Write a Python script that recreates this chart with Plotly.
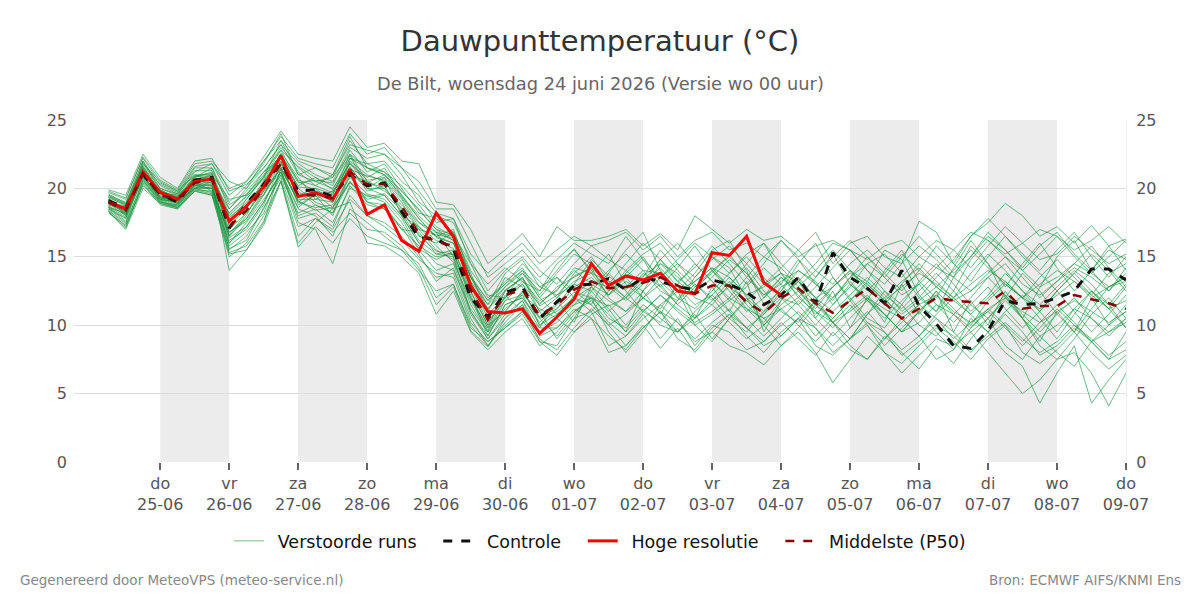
import pandas as pd
import plotly.graph_objects as go

# ---------------- data ----------------
start_time = "2026-06-24 06:00"
n_steps = 60  # 6-hourly steps

hres = [19.0,18.5,21.2,19.7,19.2,20.5,20.7,17.6,18.7,20.1,22.4,19.4,19.7,19.2,21.4,18.1,18.8,16.2,15.4,18.2,
        16.5,12.9,11.0,10.9,11.2,9.4,10.6,11.9,14.5,12.9,13.6,13.3,13.8,12.5,12.3,15.3,15.1,16.5,13.1,12.2]

p50 = [19.0,18.4,21.1,19.5,19.2,20.4,20.7,17.2,18.4,20.0,21.8,19.5,19.5,19.3,21.2,20.3,20.3,18.7,16.7,16.1,
       15.8,12.6,10.4,12.2,12.6,10.7,11.5,12.6,13.2,12.7,12.8,13.1,13.5,12.9,12.3,12.9,12.9,11.7,10.9,12.0,
       12.7,11.6,10.9,11.8,12.7,11.6,10.5,11.2,12.0,11.8,11.7,11.6,12.5,11.2,11.4,11.4,12.2,11.9,11.6,11.2]

control = [19.1,18.6,21.0,19.6,19.0,20.6,20.8,17.1,18.9,20.3,21.9,19.8,19.9,19.4,21.0,20.2,20.4,18.3,16.4,16.3,
           15.6,12.0,10.6,12.4,12.8,10.5,11.7,12.9,13.0,13.4,12.6,13.5,13.2,12.8,12.6,13.3,13.0,12.4,11.5,12.2,
           13.5,11.6,15.3,13.5,12.7,11.6,14.0,11.4,10.1,8.5,8.3,9.6,11.8,11.5,11.6,12.0,12.5,14.1,14.1,13.3]

member_01 = [19.2,18.0,21.5,19.8,19.0,20.8,21.2,16.5,18.0,20.5,22.5,20.0,19.0,18.5,22.0,21.0,20.5,19.0,17.0,15.5,14.8,11.5,9.5,11.8,13.0,11.5,12.8,13.5,14.2,12.0,11.0,12.5,14.5,13.8,12.0,11.5,13.0,14.2,12.5,11.0,10.2,11.8,13.5,12.0,10.5,9.8,11.5,13.2,14.5,13.0,11.5,10.5,12.0,13.8,12.5,10.8,9.5,11.2,12.8,13.5]
member_02 = [18.8,18.6,20.8,19.2,19.4,20.2,20.2,18.2,19.5,21.0,23.0,21.5,20.5,20.0,21.8,20.8,21.5,19.5,18.0,16.8,16.5,13.5,11.2,12.8,14.0,12.0,10.8,11.5,12.8,14.0,15.2,14.0,12.5,11.8,13.5,15.0,14.2,12.0,10.8,12.5,14.0,13.2,11.5,12.8,14.5,15.2,13.8,12.0,11.0,12.5,14.8,16.2,15.0,13.5,12.0,13.2,14.5,15.8,14.2,12.8]
member_03 = [19.5,19.0,22.0,20.2,19.6,21.5,21.5,19.0,20.2,21.8,24.0,21.0,21.5,20.8,23.5,21.8,22.0,20.5,19.5,17.5,17.8,14.5,12.0,13.0,14.5,13.2,12.0,13.8,15.0,13.2,12.0,13.5,15.5,14.0,12.8,13.8,15.2,13.5,12.2,13.0,14.8,13.0,11.8,13.5,15.0,13.8,12.5,14.0,15.8,14.5,13.2,15.0,16.5,15.2,14.0,15.5,16.8,15.0,13.5,15.0]
member_04 = [18.5,17.5,20.5,19.0,18.8,20.0,20.0,15.5,16.5,18.5,21.0,18.0,18.5,17.5,20.0,19.5,19.0,17.5,15.5,14.0,14.5,11.0,9.0,10.5,11.5,9.5,10.2,11.5,12.0,10.8,9.5,11.0,12.2,11.0,10.0,10.8,11.8,10.5,9.2,10.5,11.8,10.5,9.2,10.5,11.8,10.8,9.5,10.2,11.5,10.8,9.5,10.5,11.8,10.5,9.2,10.0,11.2,10.5,9.5,10.2]
member_05 = [18.9,18.2,21.8,20.5,19.8,21.0,20.5,14.0,15.5,17.5,21.5,19.0,19.8,19.0,21.5,20.0,20.8,18.0,16.0,16.8,15.0,12.0,9.8,12.5,13.5,11.0,9.0,10.5,12.5,13.8,12.5,11.0,10.2,11.8,13.0,12.0,10.5,9.5,11.0,12.8,13.5,12.0,10.2,9.0,10.8,12.5,11.5,10.0,9.2,10.8,12.0,13.5,12.2,10.5,8.5,7.5,9.0,10.8,12.0,10.5]
member_06 = [19.3,18.8,21.2,19.6,19.1,20.6,21.0,18.0,19.2,20.8,22.8,20.5,19.8,19.5,22.5,20.5,19.8,18.8,17.5,16.5,16.0,13.0,11.0,13.5,12.8,10.0,11.2,12.8,13.5,12.2,13.8,15.0,13.2,12.0,11.2,12.5,13.8,15.0,13.5,12.0,11.5,12.8,14.2,15.5,14.0,12.5,11.0,12.0,13.5,14.8,16.5,17.8,16.5,15.0,13.8,12.5,13.8,15.2,14.0,12.5]
member_07 = [18.4,17.2,20.2,19.0,18.6,19.9,19.6,16.0,17.2,19.0,21.2,18.5,18.0,16.5,19.5,18.0,17.5,16.5,15.0,13.5,13.8,10.5,8.5,10.0,11.0,9.0,8.2,9.8,11.2,10.0,8.5,9.8,11.0,10.2,8.8,9.5,10.8,9.8,8.5,9.2,10.5,9.8,8.0,9.0,10.2,9.5,7.8,8.8,10.0,9.2,8.0,9.5,10.8,9.5,7.8,8.5,9.8,8.8,7.5,8.2]
member_08 = [19.7,19.2,22.3,20.6,19.9,21.8,22.0,20.5,20.0,22.0,23.8,22.2,21.8,21.5,24.0,22.5,23.0,21.5,20.5,18.5,18.5,16.0,13.5,14.5,15.5,14.0,13.0,14.5,15.8,14.8,14.0,15.2,16.0,14.5,13.5,14.8,15.8,14.5,13.0,14.2,15.5,14.0,13.0,14.5,15.5,14.2,13.5,15.0,16.2,15.5,14.2,15.8,17.2,16.0,14.8,15.2,16.5,15.5,14.5,15.2]
member_09 = [19.0,18.3,21.0,19.3,19.3,20.3,20.8,17.5,18.8,19.5,21.5,19.2,19.2,19.8,21.0,19.0,18.5,17.0,15.8,15.0,15.2,12.2,9.2,11.5,12.0,10.2,11.5,13.0,12.5,11.0,12.2,13.8,12.8,11.5,12.8,14.0,12.5,11.0,12.0,13.5,12.2,10.8,12.0,13.2,11.8,10.5,11.8,13.0,11.5,10.2,11.5,12.8,11.2,9.8,11.0,12.5,11.0,9.5,10.8,12.2]
member_10 = [18.6,17.8,21.3,19.4,18.9,20.5,19.8,16.8,17.8,19.8,22.0,18.8,19.5,18.0,21.0,20.5,20.0,18.5,16.5,16.0,16.8,13.8,10.8,12.0,13.8,12.5,14.5,15.5,14.0,12.5,13.5,12.0,11.2,13.0,14.5,13.2,11.8,12.8,14.2,13.0,11.5,10.0,11.5,13.0,12.0,10.8,9.5,11.0,12.5,11.2,10.0,11.8,13.0,12.0,10.5,9.0,10.8,12.5,11.5,9.8]
member_11 = [19.1,18.5,20.8,19.2,19.0,20.0,20.5,17.0,18.2,19.8,21.2,17.5,17.0,14.5,18.5,17.5,16.5,15.5,14.0,12.5,13.0,10.0,8.5,10.2,11.5,8.8,7.8,9.5,10.5,8.0,8.5,10.0,8.3,9.8,8.0,9.5,8.5,8.0,7.1,8.5,9.5,8.0,5.8,7.5,9.2,8.0,6.5,7.8,9.0,8.5,9.5,8.0,6.5,5.0,6.0,7.5,8.0,6.5,4.1,6.5]
member_12 = [18.3,17.0,20.0,18.9,18.5,19.8,19.5,15.0,16.0,18.0,20.5,16.0,17.5,18.5,19.0,16.0,15.8,15.0,13.8,10.8,12.5,9.5,8.2,9.5,10.5,8.5,9.5,11.0,12.0,9.5,8.0,9.5,11.5,12.5,10.0,8.8,10.5,12.0,10.0,8.5,9.8,11.5,10.2,8.5,7.5,9.0,10.5,9.2,7.5,8.2,10.5,9.5,8.0,7.0,4.3,6.5,8.5,4.3,6.0,7.5]
member_13 = [19.4,18.9,21.6,20.0,19.5,21.2,21.8,19.5,20.5,22.3,24.2,22.5,22.2,22.0,24.5,23.0,23.3,22.0,21.8,19.0,18.8,17.0,14.5,15.5,16.7,15.0,17.2,16.2,16.2,16.5,17.0,15.8,16.7,15.5,18.0,17.0,16.0,17.0,16.2,16.5,15.5,16.8,14.5,16.0,16.5,15.0,14.5,17.6,16.8,14.5,16.5,17.5,18.9,18.0,16.5,17.2,16.0,17.3,15.8,16.3]
member_14 = [18.7,18.1,20.6,19.0,18.7,20.2,20.3,16.2,17.0,18.8,21.8,19.5,20.0,19.0,22.2,21.5,21.0,19.8,18.5,17.0,16.2,13.2,11.5,13.8,14.8,12.8,13.5,12.0,11.0,12.5,14.0,13.0,14.8,16.0,14.5,13.2,12.0,13.5,15.0,14.2,12.8,14.0,15.5,14.0,12.5,13.8,15.2,14.0,12.8,14.0,15.5,14.2,13.0,12.0,13.5,14.8,13.5,12.2,13.8,14.5]
member_15 = [19.9,19.5,22.5,20.8,20.0,22.0,22.2,19.8,20.3,21.5,23.2,21.8,21.0,20.5,23.0,22.2,22.5,21.0,19.0,18.0,17.5,14.8,12.5,14.0,15.0,13.5,14.8,16.0,15.2,14.5,16.5,14.8,13.5,14.8,16.0,15.0,13.8,15.2,16.0,14.5,13.2,14.5,16.0,15.5,14.0,13.0,14.5,15.8,14.8,13.5,15.0,16.5,15.5,14.2,15.8,16.8,15.2,14.0,15.5,14.8]
member_16 = [18.2,17.3,20.3,18.8,18.5,19.8,19.5,15.2,15.5,17.3,20.5,15.7,17.2,16.0,17.8,16.5,16.0,15.5,14.5,12.0,13.0,9.8,8.8,9.8,11.0,9.5,10.5,9.5,10.8,11.5,10.0,11.5,10.5,9.5,11.0,12.2,11.0,9.8,10.8,12.0,10.8,9.2,10.5,11.8,10.2,9.0,10.2,11.5,10.5,9.0,10.2,11.0,9.8,8.5,9.8,11.2,10.0,8.8,9.5,10.5]
member_17 = [19.0,18.7,21.4,19.7,19.4,20.7,20.6,18.5,19.8,21.2,22.2,20.2,20.8,20.2,22.8,21.2,21.8,20.0,18.2,17.8,16.8,14.0,12.2,12.0,13.2,11.8,12.5,14.2,13.8,15.2,13.0,12.0,13.5,14.5,13.0,11.8,13.2,11.5,10.2,11.8,13.2,12.0,11.0,12.2,13.5,12.2,11.2,12.5,13.8,12.5,11.0,12.2,13.8,12.5,11.5,12.8,14.0,13.0,11.5,13.0]
member_18 = [18.8,18.4,21.9,19.9,19.2,20.9,20.9,17.8,19.0,20.2,22.6,20.8,19.2,19.0,21.6,19.8,20.2,18.2,16.2,15.2,15.5,12.8,10.2,11.8,12.2,11.2,10.5,12.2,13.2,12.8,11.8,13.0,14.2,12.8,11.5,12.2,13.5,12.2,11.0,12.2,13.2,11.5,10.5,11.8,13.0,11.8,10.8,11.8,12.8,11.8,10.8,12.0,13.2,12.0,11.2,12.2,13.2,12.2,11.2,11.8]
member_19 = [19.6,18.9,21.7,20.3,19.7,21.3,21.3,18.8,19.6,20.8,23.5,21.2,20.2,21.0,23.8,21.5,21.0,19.5,17.8,16.5,17.0,13.5,11.8,13.2,14.2,12.2,13.8,15.2,14.5,13.0,14.5,16.0,14.8,13.2,14.2,15.8,14.5,13.0,14.5,16.2,14.8,13.5,15.0,16.2,15.0,13.5,15.0,16.5,15.2,13.8,15.0,16.8,15.5,14.0,15.2,16.5,15.0,13.8,15.0,16.2]
member_20 = [18.5,17.8,20.9,19.3,18.8,20.1,20.0,16.0,17.5,19.2,21.0,18.2,18.8,18.2,20.5,19.2,19.5,18.0,16.0,14.5,14.0,11.2,9.5,11.0,12.5,10.5,9.2,10.8,12.2,10.5,9.8,11.2,10.0,9.5,10.8,9.0,10.5,11.8,10.5,9.2,10.5,11.8,10.2,9.0,10.8,12.0,10.5,9.2,10.8,12.0,10.8,9.5,11.0,12.2,11.0,9.5,11.2,12.5,11.2,9.8]
member_21 = [19.2,18.1,21.2,19.5,18.9,20.4,20.4,17.3,18.5,20.6,22.0,19.6,19.4,19.8,21.4,20.9,20.6,19.2,17.2,16.2,15.6,12.5,10.0,12.6,13.4,11.4,12.2,13.6,14.2,13.0,12.0,13.2,14.8,13.5,12.5,14.0,15.0,13.8,12.2,13.5,12.5,11.2,12.8,14.0,12.8,11.5,13.0,14.5,13.2,12.0,13.8,15.2,14.0,12.5,11.0,12.5,13.8,12.5,11.2,12.8]
member_22 = [18.9,18.3,20.7,19.1,19.1,20.0,20.1,16.5,17.8,19.6,21.6,19.0,18.6,18.8,20.8,19.6,19.2,17.8,15.6,14.8,15.4,12.0,9.8,11.2,12.2,10.0,10.8,12.0,12.8,11.8,11.0,12.0,13.0,11.5,10.5,11.8,12.8,11.2,10.0,11.5,12.5,11.0,9.8,11.2,12.2,10.8,9.5,11.0,12.2,10.8,9.8,11.0,12.2,10.8,9.5,10.8,12.0,10.5,9.2,10.5]
member_23 = [19.4,18.7,21.5,19.7,19.5,20.6,20.9,17.9,18.9,20.4,22.2,20.1,20.0,19.6,21.9,20.6,20.8,19.3,17.5,16.8,16.2,13.2,10.5,12.0,13.0,11.0,12.0,13.2,13.8,13.2,12.8,14.0,13.8,12.5,13.2,14.2,13.5,12.2,12.8,13.8,13.2,12.0,12.8,13.8,13.0,11.8,12.8,13.8,13.0,12.0,13.0,14.0,13.2,12.0,13.0,14.0,13.2,12.0,12.8,13.5]
member_24 = [18.6,17.6,21.0,19.2,18.7,20.3,20.2,15.8,16.8,18.2,21.4,17.8,18.2,17.2,20.2,18.8,18.5,17.2,15.2,13.2,14.2,10.8,9.0,10.8,11.8,9.8,9.8,11.0,11.8,10.2,9.2,10.5,11.5,10.2,9.0,10.2,11.2,9.8,8.8,10.0,11.0,9.8,8.5,9.8,11.0,9.5,8.2,9.2,10.5,9.5,8.2,9.2,10.2,9.0,8.0,8.8,10.0,9.0,7.8,8.8]
member_25 = [19.3,18.2,21.0,19.9,19.3,20.8,21.5,18.5,20.0,21.5,23.2,21.0,20.5,20.8,22.5,21.5,21.2,20.2,18.8,17.2,16.5,13.5,11.5,12.8,13.8,12.0,13.5,12.5,11.5,13.8,15.5,16.8,14.0,12.5,13.8,15.5,16.2,14.0,11.5,12.5,14.5,16.0,13.5,11.8,13.2,15.5,14.8,12.2,11.0,13.5,15.8,14.5,12.0,10.5,12.8,15.0,16.2,14.0,12.5,14.2]
member_26 = [18.7,17.9,21.4,19.6,19.1,20.2,20.6,16.8,17.6,19.5,21.9,19.8,18.8,18.2,21.2,20.0,19.5,18.0,17.2,15.8,14.6,11.8,9.6,12.2,11.0,9.8,11.8,10.2,12.8,11.2,9.5,12.5,10.8,13.0,10.5,12.8,11.0,13.2,9.5,11.8,13.5,10.5,12.5,9.8,12.0,10.2,13.0,10.8,12.5,9.5,11.8,10.0,12.5,10.5,8.8,11.0,9.5,12.0,10.0,11.5]
member_27 = [19.5,18.8,22.0,20.0,19.6,21.0,21.0,19.2,19.5,21.2,22.8,21.6,20.8,19.9,22.2,21.8,21.2,19.8,18.4,17.0,16.6,14.5,13.0,14.2,13.2,12.5,14.0,15.6,13.8,12.2,13.5,14.8,12.8,14.2,15.8,14.0,12.8,14.5,16.0,13.8,12.0,13.5,15.2,13.0,11.8,14.0,15.5,13.2,12.0,14.2,16.2,14.5,12.8,14.5,16.0,14.2,12.5,14.0,15.8,14.0]
member_28 = [18.4,17.4,20.6,19.1,18.6,19.9,19.8,15.6,16.2,18.6,20.8,17.2,17.8,17.0,19.2,18.0,17.2,16.2,14.8,13.8,13.5,10.2,8.8,9.8,10.8,8.8,8.5,10.5,11.0,8.5,9.2,10.8,9.0,10.5,8.5,10.0,9.5,8.2,8.8,10.2,9.0,7.8,9.5,8.2,7.5,9.2,8.0,6.8,8.5,7.2,9.0,10.5,8.5,7.5,9.2,8.0,7.0,8.8,7.5,9.5]
member_29 = [19.1,18.6,21.3,19.8,19.3,20.7,20.8,17.4,19.2,20.9,22.4,20.6,20.2,19.7,21.8,20.4,21.0,19.4,17.8,16.4,16.0,13.0,11.2,12.5,13.5,11.6,12.6,14.0,13.0,12.2,13.2,12.5,13.8,12.0,13.2,14.2,12.8,11.8,13.0,13.8,12.5,11.5,12.8,14.0,13.2,12.0,13.2,14.2,12.8,11.8,12.5,13.5,14.5,13.0,12.2,13.2,14.2,13.5,12.5,13.8]
member_30 = [18.9,18.0,20.9,19.4,19.0,20.6,20.4,16.4,17.2,19.0,21.2,18.6,19.6,18.6,20.5,19.0,18.8,17.0,16.8,15.2,15.0,11.0,9.2,11.5,12.0,10.5,11.0,12.0,11.5,10.0,10.8,12.0,11.0,9.5,10.5,11.5,10.2,9.0,10.0,11.2,10.0,8.8,10.2,11.5,10.0,8.5,9.8,11.0,9.5,8.2,9.8,11.2,10.0,8.8,10.2,11.5,10.2,8.8,10.0,11.0]
member_31 = [19.8,19.3,22.2,20.4,19.8,21.6,21.8,20.0,20.5,22.0,23.5,22.0,21.5,21.0,23.2,22.8,22.5,21.5,19.8,18.2,17.8,15.2,13.8,15.0,16.0,14.5,15.5,16.5,15.8,16.2,16.8,15.5,16.5,15.0,16.2,16.8,15.5,16.0,15.0,16.2,15.0,15.8,16.2,15.5,14.8,15.8,16.2,15.0,14.2,15.5,16.8,16.2,15.2,16.0,17.0,16.5,15.5,16.2,17.2,16.0]
member_32 = [18.3,17.1,20.4,18.9,18.6,20.0,19.7,15.3,15.8,17.6,20.6,16.5,17.8,16.8,18.2,17.0,16.8,15.8,14.2,11.5,12.8,9.6,8.4,10.5,11.8,9.2,9.8,11.2,10.5,9.2,8.2,9.8,11.0,9.0,8.2,9.8,10.8,9.2,8.0,9.5,10.5,8.5,7.8,9.0,10.0,8.0,7.2,8.5,9.8,8.8,7.5,9.0,10.0,8.0,7.2,8.2,9.5,8.0,6.8,7.8]
member_33 = [19.2,18.4,21.6,19.8,19.4,20.9,21.1,18.1,19.4,20.7,22.5,20.4,20.6,20.4,22.4,20.0,20.0,18.6,17.0,16.6,16.4,13.6,11.8,13.0,14.0,12.8,12.2,13.0,14.8,13.6,12.6,13.6,14.5,13.2,12.2,13.5,14.8,13.8,12.0,13.2,14.0,13.0,12.0,13.5,14.5,13.5,12.2,13.0,14.2,13.5,12.5,13.8,15.0,14.0,12.8,13.5,14.5,13.8,12.8,13.2]
member_34 = [18.6,18.2,21.0,19.3,18.9,20.2,20.0,16.6,18.2,19.9,21.4,19.1,18.4,18.6,20.4,19.4,19.6,18.4,16.6,15.4,15.2,12.4,10.0,11.0,12.4,10.6,11.2,12.4,12.0,11.4,12.0,11.0,12.2,11.2,10.2,11.0,12.0,11.2,10.5,11.2,12.0,11.0,10.2,11.0,12.0,11.2,10.5,11.5,12.2,11.0,10.2,11.2,12.0,11.0,10.2,11.0,11.8,11.0,10.2,11.0]

members = [member_01, member_02, member_03, member_04, member_05, member_06, member_07, member_08,
           member_09, member_10, member_11, member_12, member_13, member_14, member_15, member_16,
           member_17, member_18, member_19, member_20, member_21, member_22, member_23, member_24,
           member_25, member_26, member_27, member_28, member_29, member_30, member_31, member_32,
           member_33, member_34]

day_names = ["ma", "di", "wo", "do", "vr", "za", "zo"]
title_text = "Dauwpunttemperatuur (°C)"
subtitle_text = "De Bilt, woensdag 24 juni 2026 (Versie wo 00 uur)"
footer_left = "Gegenereerd door MeteoVPS (meteo-service.nl)"
footer_right = "Bron: ECMWF AIFS/KNMI Ens"
legend_names = ["Verstoorde runs", "Controle", "Hoge resolutie", "Middelste (P50)"]

# ---------------- figure ----------------
times = pd.date_range(start_time, periods=n_steps, freq="6h")
x_start = pd.Timestamp("2026-06-23 18:00")
x_end = pd.Timestamp("2026-07-09 00:00")
tick_days = pd.date_range("2026-06-25", "2026-07-09", freq="D")
tick_text = [f"{day_names[d.weekday()]}<br>{d.strftime('%d-%m')}" for d in tick_days]

PRE = "\u2002"
POST = "\u00a0\u00a0\u00a0"
lg = [PRE + n + (POST if i < len(legend_names) - 1 else "") for i, n in enumerate(legend_names)]

fig = go.Figure()

member_color = "#17923a"
for k, m in enumerate(members):
    fig.add_trace(go.Scatter(
        x=times[:len(m)], y=m, mode="lines",
        line=dict(color=member_color, width=1), opacity=0.62,
        name=lg[0], legendgroup="members", showlegend=(k == 0),
        hoverinfo="skip"))

fig.add_trace(go.Scatter(x=times[:len(control)], y=control, mode="lines",
                         line=dict(color="#111111", width=3, dash="dash"), name=lg[1]))
fig.add_trace(go.Scatter(x=times[:len(hres)], y=hres, mode="lines",
                         line=dict(color="#ff0000", width=3), name=lg[2]))
fig.add_trace(go.Scatter(x=times[:len(p50)], y=p50, mode="lines",
                         line=dict(color="#8b0000", width=2.5, dash="dash"), name=lg[3]))
# invisible trace for right axis
fig.add_trace(go.Scatter(x=[times[0]], y=[0], yaxis="y2", mode="markers",
                         marker=dict(opacity=0), showlegend=False, hoverinfo="skip"))

shapes = []
for d in tick_days[:-1:2]:
    shapes.append(dict(type="rect", xref="x", yref="paper", x0=d, x1=d + pd.Timedelta(days=1),
                       y0=0, y1=1, fillcolor="#ececec", line=dict(width=0), layer="below"))

L, R, T, B = 74, 74, 120, 138
PW, PH = 1200 - L - R, 600 - T - B

def px_x(p):
    return (p - L) / PW

def px_y(p):
    return (600 - B - p) / PH

fig.update_layout(
    width=1200, height=600,
    margin=dict(l=L, r=R, t=T, b=B),
    paper_bgcolor="white", plot_bgcolor="white",
    font=dict(family="DejaVu Sans", color="#555555"),
    title=dict(text=title_text, x=0.5, xanchor="center", y=1 - 41 / 600, yanchor="middle",
               font=dict(size=29, color="#333333")),
    shapes=shapes,
    showlegend=True,
    legend=dict(orientation="h", x=0.5, xanchor="center", y=px_y(541), yanchor="middle",
                font=dict(size=17.5, color="#111111"), bgcolor="rgba(0,0,0,0)"),
    xaxis=dict(range=[x_start, x_end], tickvals=tick_days, ticktext=tick_text,
               ticks="outside", ticklen=7, tickcolor="#666666", tickwidth=2,
               showgrid=False, showline=False, zeroline=False,
               tickfont=dict(size=16, color="#555555")),
    yaxis=dict(range=[0, 25], dtick=5, showgrid=True, gridcolor="#dddddd", zeroline=False,
               tickfont=dict(size=16, color="#555555"), ticks="", ticklabelstandoff=6),
    yaxis2=dict(range=[0, 25], dtick=5, overlaying="y", side="right", showgrid=False,
                zeroline=False, showline=True, linecolor="#eeeeee", linewidth=1,
                tickfont=dict(size=16, color="#555555"), ticklabelstandoff=6),
    annotations=[
        dict(text=subtitle_text, xref="paper", yref="paper", x=0.5, y=px_y(84),
             xanchor="center", yanchor="middle", showarrow=False,
             font=dict(size=17.8, color="#666666")),
        dict(text=footer_left, xref="paper", yref="paper", x=px_x(18), y=px_y(580),
             xanchor="left", yanchor="middle", showarrow=False,
             font=dict(size=13.5, color="#888888")),
        dict(text=footer_right, xref="paper", yref="paper", x=px_x(1183), y=px_y(580),
             xanchor="right", yanchor="middle", showarrow=False,
             font=dict(size=13.5, color="#888888")),
    ],
)

fig.write_html("out.html")
